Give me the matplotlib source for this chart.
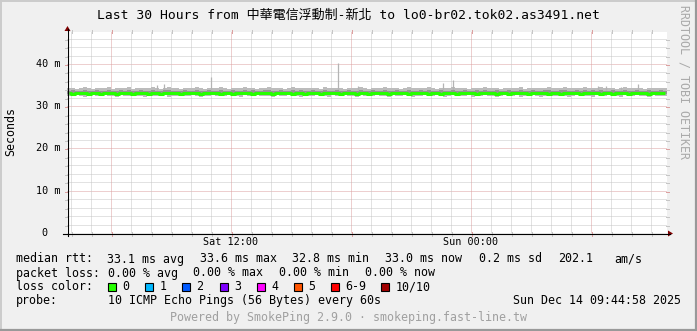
import matplotlib
matplotlib.use('Agg')
import matplotlib.pyplot as plt
from matplotlib.patches import Rectangle, Polygon

# ---------------- data ----------------
title = "Last 30 Hours from 中華電信浮動制-新北 to lo0-br02.tok02.as3491.net"
t_start = 3.8      # hours since Sat 00:00
t_end = 33.8
bin_hours = 0.2
y_max = 47.57      # ms

median = [
33.1,33.0,33.1,33.2,33.1,33.0,33.1,33.1,33.0,33.2,
33.1,33.1,33.0,33.1,33.2,33.1,33.0,33.1,33.1,33.2,
33.0,33.1,33.1,33.0,33.1,33.2,33.1,33.1,33.0,33.1,
33.1,33.2,33.1,33.0,33.1,33.1,33.2,33.1,33.0,33.1,
33.1,33.0,33.1,33.2,33.1,33.1,33.0,33.1,33.2,33.1,
33.1,33.0,33.1,33.1,33.2,33.1,33.0,33.1,33.1,33.0,
33.2,33.1,33.1,33.0,33.1,33.2,33.1,33.1,33.0,33.1,
33.1,33.2,33.0,33.1,33.1,33.0,33.1,33.2,33.1,33.1,
33.0,33.1,33.1,33.2,33.1,33.0,33.1,33.1,33.2,33.1,
33.0,33.1,33.1,33.0,33.2,33.1,33.1,33.0,33.1,33.1,
33.2,33.1,33.0,33.1,33.1,33.2,33.1,33.0,33.1,33.1,
33.0,33.1,33.2,33.1,33.1,33.0,33.1,33.1,33.2,33.1,
33.0,33.1,33.1,33.0,33.1,33.2,33.1,33.1,33.0,33.1,
33.1,33.2,33.1,33.0,33.1,33.1,33.0,33.2,33.1,33.1,
33.0,33.1,33.1,33.2,33.1,33.0,33.1,33.1,33.2,33.1]

smoke_hi = [
34.2,34.4,34.1,34.3,34.5,34.2,34.1,34.4,34.3,34.2,
34.6,34.1,34.3,34.4,34.2,34.5,34.1,34.2,34.4,34.3,
34.2,34.5,34.3,34.1,34.4,34.6,34.2,34.3,34.1,34.4,
34.3,34.2,34.5,34.4,34.1,34.3,34.4,34.2,34.5,34.3,
34.1,34.4,34.2,34.3,34.5,34.2,34.4,34.1,34.3,34.4,
34.5,34.2,34.3,34.4,34.1,34.3,34.5,34.2,34.4,34.3,
34.2,34.4,34.3,34.1,34.5,34.3,34.2,34.4,34.3,34.1,
34.4,34.3,34.2,34.5,34.3,34.1,34.4,34.2,34.3,34.5,
34.2,34.3,34.4,34.1,34.3,34.5,34.2,34.3,34.4,34.2,
34.5,34.3,34.1,34.4,34.3,34.2,34.5,34.3,34.2,34.4,
34.1,34.3,34.4,34.2,34.5,34.3,34.2,34.4,34.1,34.3,
34.4,34.2,34.3,34.5,34.1,34.3,34.4,34.2,34.3,34.4,
34.5,34.3,34.2,34.4,34.6,34.3,34.2,34.4,34.3,34.5,
34.2,34.4,34.3,34.5,34.2,34.3,34.4,34.1,34.3,34.5,
34.3,34.2,34.4,34.3,34.1,34.4,34.3,34.2,34.4,34.3]

smoke_lo = [
32.5,32.4,32.6,32.5,32.3,32.5,32.6,32.4,32.5,32.6,
32.4,32.5,32.3,32.6,32.5,32.4,32.6,32.5,32.4,32.3,
32.6,32.5,32.4,32.5,32.6,32.3,32.5,32.4,32.6,32.5,
32.4,32.6,32.5,32.3,32.5,32.4,32.6,32.5,32.4,32.5,
32.6,32.4,32.5,32.3,32.6,32.5,32.4,32.6,32.5,32.4,
32.5,32.3,32.6,32.4,32.5,32.6,32.4,32.5,32.3,32.6,
32.4,32.5,32.6,32.4,32.5,32.3,32.6,32.5,32.4,32.6,
32.5,32.4,32.3,32.6,32.5,32.4,32.5,32.6,32.4,32.5,
32.3,32.6,32.5,32.4,32.6,32.5,32.3,32.5,32.4,32.6,
32.5,32.4,32.6,32.5,32.3,32.4,32.6,32.5,32.4,32.5,
32.6,32.3,32.5,32.4,32.6,32.5,32.4,32.3,32.5,32.6,
32.4,32.5,32.6,32.3,32.5,32.4,32.6,32.5,32.3,32.5,
32.6,32.4,32.5,32.6,32.4,32.3,32.5,32.6,32.4,32.5,
32.5,32.3,32.6,32.4,32.5,32.6,32.4,32.5,32.3,32.6,
32.4,32.5,32.6,32.4,32.5,32.3,32.6,32.5,32.4,32.5]

inner_hi = [
33.7,33.8,33.6,33.7,33.9,33.6,33.7,33.8,33.6,33.7,
33.9,33.6,33.7,33.8,33.6,33.9,33.7,33.6,33.8,33.7,
33.6,33.8,33.7,33.6,33.9,33.8,33.6,33.7,33.6,33.8,
33.7,33.6,33.9,33.7,33.6,33.8,33.7,33.6,33.9,33.7,
33.6,33.8,33.7,33.6,33.9,33.7,33.8,33.6,33.7,33.8,
33.9,33.6,33.7,33.8,33.6,33.7,33.9,33.6,33.8,33.7,
33.6,33.8,33.7,33.6,33.9,33.7,33.6,33.8,33.7,33.6,
33.8,33.7,33.6,33.9,33.7,33.6,33.8,33.6,33.7,33.9,
33.6,33.7,33.8,33.6,33.7,33.9,33.6,33.7,33.8,33.6,
33.9,33.7,33.6,33.8,33.7,33.6,33.9,33.7,33.6,33.8,
33.6,33.7,33.8,33.6,33.9,33.7,33.6,33.8,33.6,33.7,
33.8,33.6,33.7,33.9,33.6,33.7,33.8,33.6,33.7,33.8,
33.9,33.7,33.6,33.8,33.9,33.7,33.6,33.8,33.7,33.9,
33.6,33.8,33.7,33.9,33.6,33.7,33.8,33.6,33.7,33.9,
33.7,33.6,33.8,33.7,33.6,33.8,33.7,33.6,33.8,33.7]

inner_lo = [
32.8,32.7,32.9,32.8,32.7,32.8,32.9,32.7,32.8,32.8,
32.7,32.8,32.9,32.7,32.8,32.9,32.8,32.7,32.8,32.9,
32.8,32.7,32.8,32.9,32.7,32.8,32.8,32.9,32.7,32.8,
32.9,32.8,32.7,32.8,32.9,32.7,32.8,32.8,32.7,32.9,
32.8,32.7,32.9,32.8,32.7,32.8,32.9,32.8,32.7,32.8,
32.7,32.9,32.8,32.7,32.8,32.8,32.9,32.7,32.8,32.7,
32.8,32.9,32.7,32.8,32.8,32.7,32.9,32.8,32.7,32.8,
32.9,32.8,32.7,32.8,32.9,32.7,32.8,32.8,32.9,32.7,
32.8,32.7,32.8,32.9,32.7,32.8,32.9,32.7,32.8,32.8,
32.7,32.9,32.8,32.7,32.8,32.9,32.8,32.7,32.8,32.9,
32.8,32.7,32.9,32.8,32.7,32.8,32.8,32.9,32.7,32.8,
32.9,32.8,32.7,32.8,32.8,32.7,32.9,32.8,32.7,32.8,
32.7,32.8,32.9,32.7,32.8,32.8,32.7,32.9,32.8,32.7,
32.8,32.9,32.7,32.8,32.7,32.8,32.9,32.8,32.7,32.8,
32.9,32.7,32.8,32.8,32.9,32.7,32.8,32.8,32.7,32.8]

spike_t = [8.3, 8.65, 11.0, 17.35, 18.35, 22.6, 23.1, 30.35, 30.75, 31.5, 32.35]
spike_top = [35.0, 35.2, 37.0, 40.2, 34.9, 35.5, 36.2, 34.9, 34.7, 34.5, 35.3]

y_ticks = [0, 10, 20, 30, 40]
y_tick_labels = ["0", "10 m", "20 m", "30 m", "40 m"]
x_ticks = [12, 24]
x_tick_labels = ["Sat 12:00", "Sun 00:00"]

rtt_labels = ["median rtt:", "33.1 ms avg", "33.6 ms max", "32.8 ms min",
              "33.0 ms now", "0.2 ms sd", "202.1", "am/s"]
loss_labels = ["packet loss:", "0.00 % avg", "0.00 % max", "0.00 % min", "0.00 % now"]
loss_color_names = ["0", "1", "2", "3", "4", "5", "6-9", "10/10"]
loss_colors = ["#26ff00", "#00b8ff", "#0059ff", "#7e00ff", "#ff00ff",
               "#ff5500", "#ff0000", "#a10000"]
probe_text = "10 ICMP Echo Pings (56 Bytes) every 60s"
date_text = "Sun Dec 14 09:44:58 2025"
powered_text = "Powered by SmokePing 2.9.0 · smokeping.fast-line.tw"
watermark = "RRDTOOL / TOBI OETIKER"

# ---------------- layout ----------------
W, H = 697, 331
L, R, T, B = 67, 667, 32, 233
MONO = ['DejaVu Sans Mono', 'Noto Sans CJK TC']
FS_LEG, FS_AX, FS_TITLE = 8.4, 7.3, 9.4
BG = '#f0f0f0'

fig = plt.figure(figsize=(W / 100, H / 100), dpi=100, facecolor=BG)
ax = fig.add_axes([L / W, 1 - B / H, (R - L) / W, (B - T) / H])
ax.set_facecolor('white')
ax.set_xlim(t_start, t_end)
ax.set_ylim(0, y_max)
for s in ax.spines.values():
    s.set_visible(False)
ax.set_xticks([])
ax.set_yticks([])

minor_c = '#c6c6c6'
major_c = '#dca0a0'
dots = (0, (1, 1))
for y in range(2, 48, 2):
    c = major_c if y % 10 == 0 else minor_c
    ax.axhline(y, color=c, lw=0.72, ls=dots, zorder=1)
for h in range(4, 34):
    c = major_c if h % 6 == 0 else minor_c
    ax.axvline(h, color=c, lw=0.72, ls=dots, zorder=1)

n = len(median)
tc = [t_start + bin_hours * (i + 0.5) for i in range(n)]
ax.bar(tc, [h - l for h, l in zip(smoke_hi, smoke_lo)], bottom=smoke_lo,
       width=bin_hours, color='#bcbcbc', lw=0, zorder=2)
ax.bar(tc, [h - l for h, l in zip(inner_hi, inner_lo)], bottom=inner_lo,
       width=bin_hours, color='#959595', lw=0, zorder=2.5)
ax.vlines(spike_t, 33.5, spike_top, color='#b4b4b4', lw=0.9, zorder=2)
ax.plot(tc, median, color=loss_colors[0], lw=2.2, drawstyle='steps-mid',
        zorder=4, solid_capstyle='butt')

# ---------------- overlay in pixel coords ----------------
ov = fig.add_axes([0, 0, 1, 1])
ov.set_xlim(0, W)
ov.set_ylim(H, 0)
ov.axis('off')
ov.patch.set_alpha(0)

def py(v):
    return B - v * (B - T) / y_max

def px(t):
    return L + (t - t_start) * (R - L) / (t_end - t_start)

# frame shading
ov.plot([0, W], [0.5, 0.5], color='#cbcbcb', lw=1.4)
ov.plot([0.5, 0.5], [0, H], color='#cbcbcb', lw=1.4)
ov.plot([0, W], [H - 1.0, H - 1.0], color='#999999', lw=1.6)
ov.plot([W - 1.0, W - 1.0], [0, H], color='#999999', lw=1.6)

# grid end ticks
for y in range(2, 48, 2):
    c = major_c if y % 10 == 0 else minor_c
    yy = round(py(y)) + 0.5
    ov.plot([L - 2, L + 1], [yy, yy], color=c, lw=0.72)
    ov.plot([R - 1, R + 2], [yy, yy], color=c, lw=0.72)
for h in range(4, 34):
    c = major_c if h % 6 == 0 else minor_c
    xx = round(px(h)) + 0.5
    ov.plot([xx, xx], [B - 1, B + 2.5], color=c, lw=0.72)
    ov.plot([xx, xx], [T - 2, T + 1], color=c, lw=0.72)

# axes with arrows
ov.plot([L - 4, R + 3], [233.5, 233.5], color='black', lw=0.8)
ov.plot([L + 0.5, L + 0.5], [B + 3, T - 3], color='black', lw=0.8)
ov.add_patch(Polygon([[R + 1, 230.5], [R + 6, 233.5], [R + 1, 236.5]],
                     closed=True, color='#7f0000', lw=0))
ov.add_patch(Polygon([[L - 2.5, T - 1], [L + 0.5, T - 6], [L + 3.5, T - 1]],
                     closed=True, color='#7f0000', lw=0))

# title
ov.text(348.5, 15, title, family=MONO, fontsize=FS_TITLE, ha='center', va='center')

# y labels
for v, lab in zip(y_ticks, y_tick_labels):
    if lab == "0":
        ov.text(48, py(v), lab, family=MONO, fontsize=FS_AX, ha='right', va='center')
    else:
        ov.text(60.5, py(v), lab, family=MONO, fontsize=FS_AX, ha='right', va='center')
ov.text(11, 132, "Seconds", family=MONO, fontsize=FS_LEG, rotation=90,
        ha='center', va='center')

# x labels
for t, lab in zip(x_ticks, x_tick_labels):
    ov.text(px(t), 242, lab, family=MONO, fontsize=FS_AX, ha='center', va='center')

# watermark
ov.text(684, 82, watermark, family=MONO, fontsize=FS_LEG, rotation=270,
        ha='center', va='center', color='#aaaaaa')

# legend rows
rtt_x = [16, 107, 199.6, 292.4, 385, 479, 558, 614]
for x, s in zip(rtt_x, rtt_labels):
    ov.text(x, 259, s, family=MONO, fontsize=FS_LEG, ha='left', va='center')
loss_x = [16, 107.5, 193, 279, 365]
for x, s in zip(loss_x, loss_labels):
    ov.text(x, 273, s, family=MONO, fontsize=FS_LEG, ha='left', va='center')
ov.text(16, 287, "loss color:", family=MONO, fontsize=FS_LEG, ha='left', va='center')
box_x = [108, 145, 182, 219.5, 257, 294, 331, 381]
for x, name, c in zip(box_x, loss_color_names, loss_colors):
    ov.add_patch(Rectangle((x, 283), 8, 8, facecolor=c, edgecolor='black', lw=0.8))
    ov.text(x + 14.5, 287, name, family=MONO, fontsize=FS_LEG, ha='left', va='center')
ov.text(16, 300.5, "probe:", family=MONO, fontsize=FS_LEG, ha='left', va='center')
ov.text(107.5, 300.5, probe_text, family=MONO, fontsize=FS_LEG, ha='left', va='center')
ov.text(681, 300.5, date_text, family=MONO, fontsize=FS_LEG, ha='right', va='center')
ov.text(348.5, 318, powered_text, family=MONO, fontsize=FS_LEG, ha='center',
        va='center', color='#a0a0a0')

fig.savefig('out.png', dpi=100, facecolor=BG)
